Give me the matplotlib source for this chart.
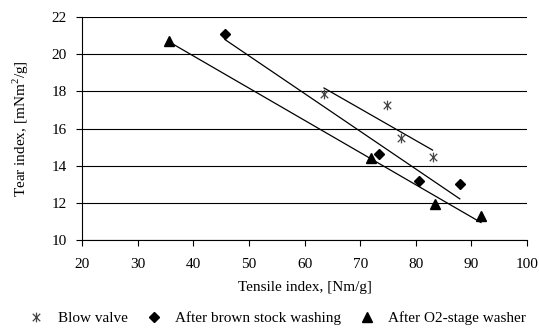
import numpy as np
import matplotlib.pyplot as plt
from matplotlib.path import Path

plt.rcParams['font.family'] = ['Liberation Serif', 'DejaVu Serif']
plt.rcParams['mathtext.fontset'] = 'custom'
plt.rcParams['mathtext.rm'] = 'Liberation Serif'

# Tensile index [Nm/g] and tear index [mNm2/g] for each sampling point
blow_x = [63.5, 74.8, 77.4, 83.0]
blow_y = [17.85, 17.26, 15.5, 14.48]

brown_x = [45.7, 73.3, 80.5, 87.9]
brown_y = [21.08, 14.63, 13.19, 13.03]

o2_x = [35.7, 72.0, 83.5, 91.7]
o2_y = [20.71, 14.41, 11.94, 11.29]

series_labels = ["Blow valve", "After brown stock washing", "After O2-stage washer"]
x_ticks = [20, 30, 40, 50, 60, 70, 80, 90, 100]
y_ticks = [10, 12, 14, 16, 18, 20, 22]

# asterisk-like marker: an x with a vertical bar
star_path = Path(
    [(-1, -1), (1, 1), (-1, 1), (1, -1), (0, -1.3), (0, 1.3)],
    [Path.MOVETO, Path.LINETO, Path.MOVETO, Path.LINETO, Path.MOVETO, Path.LINETO],
)

fig = plt.figure(figsize=(5.39, 3.29), dpi=100)
ax = fig.add_axes([0.152, 0.270, 0.826, 0.678])

for y in y_ticks:
    ax.axhline(y, color='black', lw=0.8, zorder=1)

styles = [
    dict(marker=star_path, color='#444444', ms=7, mew=0.9, fillstyle='none'),
    dict(marker='D', color='black', ms=5.3),
    dict(marker='^', color='black', ms=6.8),
]
data = [(blow_x, blow_y), (brown_x, brown_y), (o2_x, o2_y)]

for (xs, ys), st, lab in zip(data, styles, series_labels):
    ax.plot(xs, ys, linestyle='none', label=lab, zorder=3, **st)
    # linear trend line across the measured range
    k, b = np.polyfit(xs, ys, 1)
    xr = np.array([min(xs), max(xs)])
    ax.plot(xr, k * xr + b, color='black', lw=0.9, zorder=2)

ax.set_xlim(20, 100)
ax.set_ylim(10, 22)
ax.set_xticks(x_ticks)
ax.set_yticks(y_ticks)
ax.tick_params(direction='out', length=4, width=0.8, labelsize=11, pad=7)
ax.tick_params(axis='x', pad=9)
for s in ['top', 'right']:
    ax.spines[s].set_visible(False)
for s in ['left', 'bottom']:
    ax.spines[s].set_linewidth(0.8)

ax.set_xlabel('Tensile index, [Nm/g]', fontsize=11, labelpad=7)
ax.set_ylabel(r'Tear index, [mNm$^2$/g]', fontsize=11, labelpad=15)

handles, labels = ax.get_legend_handles_labels()
fig.legend(handles, labels, loc='center', bbox_to_anchor=(0.515, 0.033), ncol=3,
           frameon=False, fontsize=11, handlelength=1.0, handletextpad=0.9,
           columnspacing=1.2, borderaxespad=0)

fig.savefig('out.png', dpi=100)
